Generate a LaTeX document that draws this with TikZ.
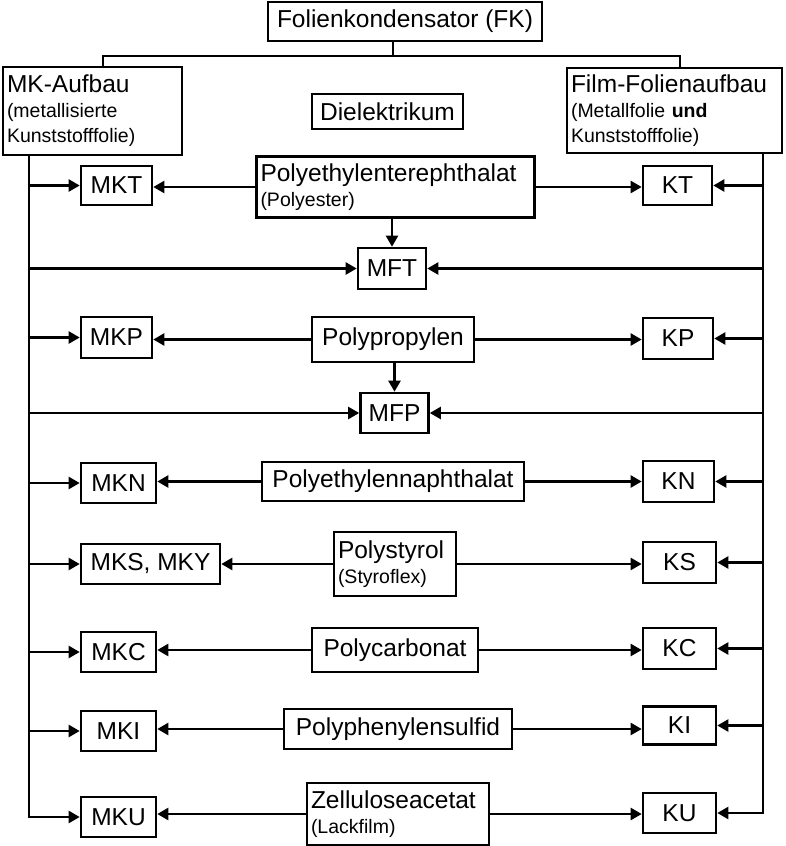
\documentclass[tikz,border=0pt]{standalone}
\usepackage{fontspec}
\setmainfont{Liberation Sans}
\usetikzlibrary{arrows.meta}
\newcommand{\bigt}[1]{{\fontsize{24.5}{25}\selectfont #1}}
\tikzset{
  box/.style={draw, line width=2.6pt, inner sep=0pt, font=\fontsize{24.5}{26}\selectfont},
  tbox/.style={draw, line width=2.6pt, inner xsep=4pt, inner ysep=0pt, align=left, font=\fontsize{19.5}{25}\selectfont},
  conn/.style={line width=2.3pt},
  arr/.style={conn, -{Triangle[length=11pt,width=12pt]}},
}
\begin{document}
\begin{tikzpicture}[x=1pt,y=-1pt]
\useasboundingbox[fill=white] (0,0) rectangle (785,846);
% top
\node[box, minimum width=274pt, minimum height=39pt] (FK) at (405,21.5) {Folienkondensator (FK)};
\node[tbox, text width=171pt, minimum height=88pt] (MK) at (92.5,111) {\bigt{MK-Aufbau}\\(metallisierte\\Kunststofffolie)};
\node[tbox, text width=207pt, minimum height=85pt] (FF) at (674.5,110.5) {\bigt{Film-Folienaufbau}\\(Metallfolie \textbf{und}\\Kunststofffolie)};
\node[box, minimum width=151pt, minimum height=35pt] (DI) at (387.5,111.5) {Dielektrikum};
% dielectrics
\node[tbox, text width=270pt, minimum height=61pt] (PET) at (395.5,187) {\bigt{Polyethylenterephthalat}\\(Polyester)};
\node[box, minimum width=162pt, minimum height=45pt] (PP) at (393,339.5) {Polypropylen};
\node[box, minimum width=262pt, minimum height=39pt] (PEN) at (393,481.5) {Polyethylennaphthalat};
\node[tbox, text width=114pt, minimum height=64pt] (PS) at (395,564) {\bigt{Polystyrol}\\(Styroflex)};
\node[box, minimum width=166pt, minimum height=44pt] (PC) at (395,650) {Polycarbonat};
\node[box, minimum width=228pt, minimum height=40pt] (PPS) at (398,729) {Polyphenylensulfid};
\node[tbox, text width=174pt, minimum height=62pt] (ZA) at (398,814) {\bigt{Zelluloseacetat}\\(Lackfilm)};
% MK types
\node[box, minimum width=71pt, minimum height=39pt] (MKT) at (116.5,185.5) {MKT};
\node[box, minimum width=71pt, minimum height=41pt] (MKP) at (116.5,337.5) {MKP};
\node[box, minimum width=75pt, minimum height=40pt] (MKN) at (118.5,483) {MKN};
\node[box, minimum width=139pt, minimum height=40pt] (MKS) at (150.5,564) {MKS, MKY};
\node[box, minimum width=75pt, minimum height=40pt] (MKC) at (118.5,652) {MKC};
\node[box, minimum width=75pt, minimum height=40pt] (MKI) at (118.5,731) {MKI};
\node[box, minimum width=75pt, minimum height=40pt] (MKU) at (118.5,817) {MKU};
% MF types
\node[box, minimum width=68pt, minimum height=41pt] (MFT) at (392,268.5) {MFT};
\node[box, minimum width=68pt, minimum height=40pt] (MFP) at (394.5,413) {MFP};
% K types
\node[box, minimum width=69pt, minimum height=39pt] (KT) at (677.5,185.5) {KT};
\node[box, minimum width=70pt, minimum height=41pt] (KP) at (678,338.5) {KP};
\node[box, minimum width=71pt, minimum height=41pt] (KN) at (678.5,481.5) {KN};
\node[box, minimum width=73pt, minimum height=41pt] (KS) at (679.5,562.5) {KS};
\node[box, minimum width=73pt, minimum height=41pt] (KC) at (679.5,648.5) {KC};
\node[box, minimum width=73pt, minimum height=38pt] (KI) at (679.5,725.5) {KI};
\node[box, minimum width=73pt, minimum height=40pt] (KU) at (679.5,813) {KU};
% helper coordinates
\coordinate (TC) at (393,56);
\coordinate (TL) at (103,56);
\coordinate (TR) at (680,56);
\coordinate (Lx) at (29,0);
\coordinate (Rx) at (763,0);
% top tree
\draw[conn] (FK.south -| TC) -- (TC);
\draw[conn] (MK.north -| TL) -- (TL) -- (TR) -- (FF.north -| TR);
% trunks
\draw[arr] (MK.south -| Lx) |- (MKU.west);
\draw[arr] (FF.south -| Rx) |- (KU.east);
% left branches
\foreach \n in {MKT,MFT,MKP,MFP,MKN,MKS,MKC,MKI}
  \draw[arr] (\n.west -| Lx) -- (\n.west);
% right branches
\foreach \n in {KT,MFT,KP,MFP,KN,KS,KC,KI}
  \draw[arr] (\n.east -| Rx) -- (\n.east);
% dielectric to types
\draw[arr] (PET.west) -- (PET.west -| MKT.east);
\draw[arr] (PET.east) -- (PET.east -| KT.west);
\draw[arr] (PET.south -| MFT.north) -- (MFT.north);
\draw[arr] (PP.west) -- (PP.west -| MKP.east);
\draw[arr] (PP.east) -- (PP.east -| KP.west);
\draw[arr] (PP.south -| MFP.north) -- (MFP.north);
\draw[arr] (PEN.west) -- (PEN.west -| MKN.east);
\draw[arr] (PEN.east) -- (PEN.east -| KN.west);
\draw[arr] (PS.west) -- (PS.west -| MKS.east);
\draw[arr] (PS.east) -- (PS.east -| KS.west);
\draw[arr] (PC.west) -- (PC.west -| MKC.east);
\draw[arr] (PC.east) -- (PC.east -| KC.west);
\draw[arr] (PPS.west) -- (PPS.west -| MKI.east);
\draw[arr] (PPS.east) -- (PPS.east -| KI.west);
\draw[arr] (ZA.west) -- (ZA.west -| MKU.east);
\draw[arr] (ZA.east) -- (ZA.east -| KU.west);
\end{tikzpicture}
\end{document}
